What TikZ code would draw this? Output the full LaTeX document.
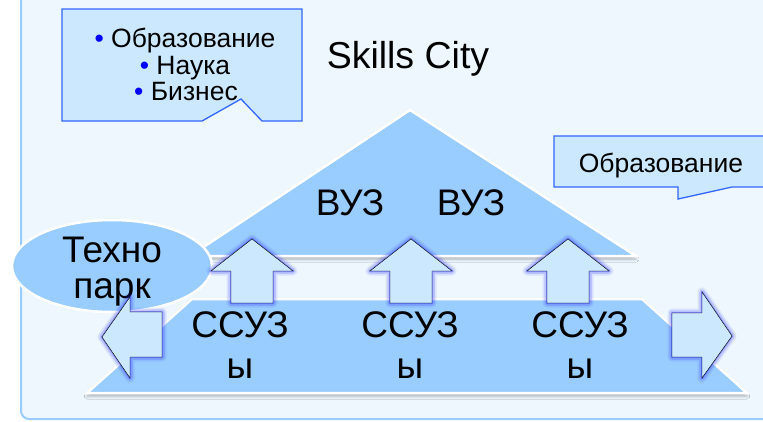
\documentclass[tikz,border=0pt]{standalone}
\usepackage{fontspec}
\setmainfont{Liberation Sans}
\usetikzlibrary{shapes.geometric,shadows.blur}
\definecolor{panelfill}{HTML}{EEF7FE}
\definecolor{panelline}{HTML}{99CCFF}
\definecolor{blockfill}{HTML}{99CCFF}
\definecolor{palefill}{HTML}{CCE8FF}
\definecolor{callline}{HTML}{3366FF}
\tikzset{
  callout/.style={fill=palefill,draw=callline,line width=1.3pt},
  block/.style={fill=blockfill,draw=white,line width=2.5pt,
    blur shadow={shadow xshift=0pt,shadow yshift=-3pt,shadow blur radius=3pt,shadow opacity=30}},
  bigarrow/.style={fill=palefill,
    preaction={draw=blue!80!white,line width=9pt,opacity=.1,line join=round},
    preaction={draw=blue!80!white,line width=5.5pt,opacity=.18,line join=round},
    preaction={draw=blue,line width=2pt,opacity=.3,line join=round}},
  small/.style={font=\fontsize{26.5}{27}\selectfont},
  big/.style={font=\fontsize{37}{41}\selectfont},
}
\newcommand{\bl}{\textcolor{blue}{•} }
\begin{document}
\begin{tikzpicture}[x=1pt,y=-1pt]
\clip (0,0) rectangle (763,421);
\draw[fill=panelfill,draw=panelline,line width=2pt,rounded corners=8pt] (21,-20) rectangle (800,419);
\draw[callout] (62,9) -- (302,9) -- (302,121) -- (262,121) -- (241,99) -- (202,121) -- (62,121) -- cycle;
\node[small,anchor=base] (edu) at (185,47) {\bl Образование};
\node[small,anchor=base] (sci) at (185,74) {\bl Наука};
\node[small,anchor=base] (biz) at (186,100) {\bl Бизнес};
\node[font=\fontsize{37.5}{40}\selectfont,anchor=base] (title) at (408,68) {Skills City};
\draw[callout] (554,136) -- (780,136) -- (780,187) -- (732,187) -- (678,199) -- (678,187) -- (554,187) -- cycle;
\node[small,anchor=base] (edutag) at (661,172) {Образование};
\draw[block] (190,256) -- (410,110) -- (636,256) -- cycle;
\draw[block] (87,393) -- (192,299) -- (642,299) -- (747,393) -- cycle;
\draw[fill=blockfill,draw=white,line width=2.5pt] (112,266) ellipse (100 and 46);
\node[font=\fontsize{37}{36}\selectfont,align=center,anchor=base] (park) at (112,298) {Техно\\парк};
\draw[bigarrow] (252,239) -- ++(41,32) -- ++(-20,0) -- ++(0,32) -- ++(-42,0) -- ++(0,-32) -- ++(-20,0) -- cycle;
\draw[bigarrow] (411,239) -- ++(41,32) -- ++(-20,0) -- ++(0,32) -- ++(-42,0) -- ++(0,-32) -- ++(-20,0) -- cycle;
\draw[bigarrow] (568,239) -- ++(41,32) -- ++(-20,0) -- ++(0,32) -- ++(-42,0) -- ++(0,-32) -- ++(-20,0) -- cycle;
\draw[bigarrow] (102,337) -- (130,297) -- (130,312) -- (162,312) -- (162,357) -- (130,357) -- (130,378) -- cycle;
\draw[bigarrow] (732,336) -- (702,292) -- (702,313) -- (672,313) -- (672,357) -- (702,357) -- (702,378) -- cycle;
\node[big,anchor=base] (vuzA) at (350,215) {ВУЗ};
\node[big,anchor=base] (vuzB) at (471,215) {ВУЗ};
\node[big,align=center,anchor=base] (ssuzA) at (240,378) {ССУЗ\\ы};
\node[big,align=center,anchor=base] (ssuzB) at (410,378) {ССУЗ\\ы};
\node[big,align=center,anchor=base] (ssuzC) at (580,378) {ССУЗ\\ы};
\end{tikzpicture}
\end{document}
